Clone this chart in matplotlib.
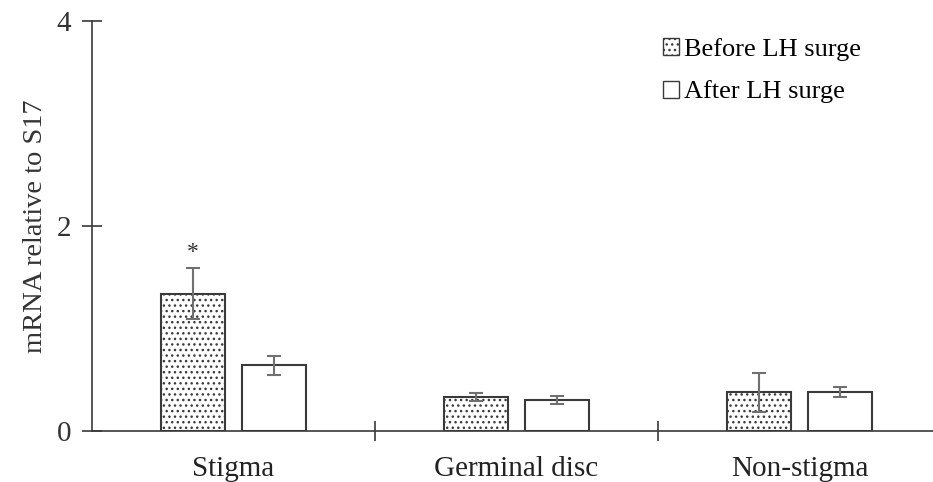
import numpy as np
import matplotlib.pyplot as plt
from matplotlib.patches import Patch

plt.rcParams['font.family'] = ['Liberation Serif', 'DejaVu Serif']
plt.rcParams['hatch.linewidth'] = 1.0

categories = ['Stigma', 'Germinal disc', 'Non-stigma']
series_names = ['Before LH surge', 'After LH surge']
before_vals = [1.34, 0.33, 0.38]
before_err = [0.25, 0.04, 0.19]
after_vals = [0.64, 0.30, 0.38]
after_err = [0.09, 0.04, 0.045]
y_ticks = [0, 2, 4]

edge = '#3a3a3a'
err_col = '#707070'

fig = plt.figure(figsize=(9.33, 4.82), dpi=100)
ax = fig.add_axes([0.0986, 0.1058, 0.91, 0.8506])

x = np.arange(len(categories))
w = 0.225
off = 0.143

ax.bar(x - off, before_vals, w, color='white', edgecolor=edge, linewidth=1.5,
       hatch='...', zorder=2)
ax.bar(x + off, after_vals, w, color='white', edgecolor=edge, linewidth=1.5,
       zorder=2)
ax.errorbar(x - off, before_vals, yerr=before_err, fmt='none', ecolor=err_col,
            elinewidth=1.5, capsize=5, capthick=1.5, zorder=3)
ax.errorbar(x + off, after_vals, yerr=after_err, fmt='none', ecolor=err_col,
            elinewidth=1.5, capsize=5, capthick=1.5, zorder=3)

# significance mark
ax.text(x[0] - off, before_vals[0] + before_err[0] + 0.05, '*', ha='center',
        va='bottom', fontsize=17, color='#333333')

ax.set_xlim(-0.5, 2.5)
ax.set_ylim(0, 4)
ax.set_yticks(y_ticks)
ax.set_yticklabels([str(t) for t in y_ticks], fontsize=21, color='#333333')
ax.set_xticks(x)
ax.set_xticklabels(categories, fontsize=21, color='#222222')
ax.set_xticks([0.5, 1.5], minor=True)
ax.tick_params(axis='x', which='major', length=0, pad=18)
ax.tick_params(axis='x', which='minor', direction='inout', length=14,
               width=1.2, color=edge)
ax.tick_params(axis='y', direction='inout', length=14, width=1.2, color=edge,
               pad=8)
ax.set_ylabel('mRNA relative to S17', fontsize=20.5, color='#333333',
              labelpad=6)

for s in ['top', 'right']:
    ax.spines[s].set_visible(False)
for s in ['left', 'bottom']:
    ax.spines[s].set_color(edge)
    ax.spines[s].set_linewidth(1.2)

handles = [Patch(facecolor='white', edgecolor=edge, hatch='...', linewidth=1.0),
           Patch(facecolor='white', edgecolor=edge, linewidth=1.0)]
ax.legend(handles, series_names, loc='upper right', bbox_to_anchor=(0.918, 0.985),
          frameon=False, fontsize=19, handlelength=0.6, handleheight=0.6,
          handletextpad=0.2, labelspacing=0.75, borderaxespad=0)

fig.savefig('out.png', dpi=100)
